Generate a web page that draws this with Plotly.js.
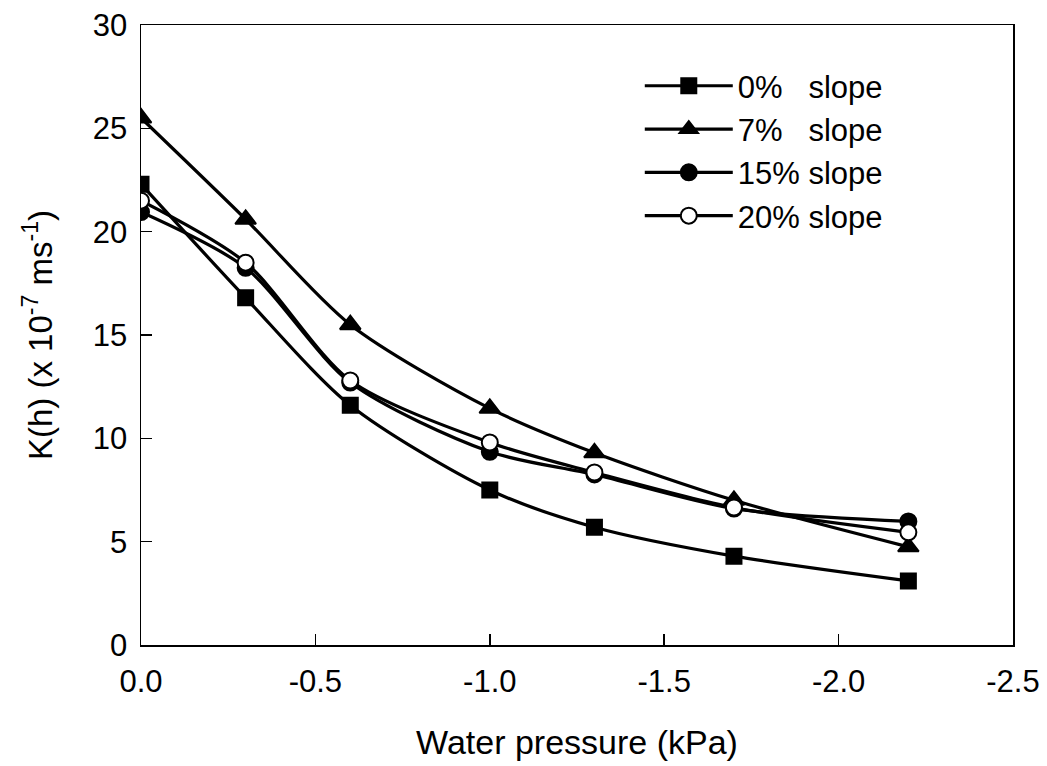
<!DOCTYPE html>
<html>
<head>
<meta charset="utf-8">
<script src="https://cdn.plot.ly/plotly-3.0.1.min.js"></script>
<style>html,body{margin:0;padding:0;background:#fff;}#chart{width:1047px;height:766px;}</style>
</head>
<body>
<div id="chart"></div>
<script>
const pressure = [0, -0.3, -0.6, -1.0, -1.3, -1.7, -2.2];
const slope0  = [22.3, 16.8, 11.6, 7.5, 5.7, 4.3, 3.1];
const slope7  = [25.5, 20.6, 15.5, 11.45, 9.3, 7.0, 4.75];
const slope15 = [20.95, 18.25, 12.7, 9.35, 8.25, 6.6, 5.98];
const slope20 = [21.5, 18.5, 12.8, 9.8, 8.35, 6.65, 5.45];
const seriesNames = ['0%\u00A0\u00A0\u00A0slope', '7%\u00A0\u00A0\u00A0slope', '15% slope', '20% slope'];
const xTickVals = [0, -0.5, -1.0, -1.5, -2.0, -2.5];
const xTickText = ['0.0', '-0.5', '-1.0', '-1.5', '-2.0', '-2.5'];
const yTickVals = [0, 5, 10, 15, 20, 25, 30];

const font = 'Liberation Sans, Arial, sans-serif';
function mk(y, name, symbol, fill, size) {
  return {
    x: pressure, y: y, name: name, type: 'scatter', mode: 'lines+markers',
    line: {color: '#000', width: 3.2, shape: 'spline', smoothing: 0.8},
    marker: {symbol: symbol, size: size, color: fill, line: {color: '#000', width: 2}}
  };
}
const data = [
  mk(slope0, seriesNames[0], 'square', '#000', 15),
  mk(slope7, seriesNames[1], 'triangle-up', '#000', 18),
  mk(slope15, seriesNames[2], 'circle', '#000', 16),
  mk(slope20, seriesNames[3], 'circle', '#fff', 16)
];
const layout = {
  width: 1047, height: 766,
  margin: {l: 141, r: 34, t: 25, b: 121},
  paper_bgcolor: '#fff', plot_bgcolor: '#fff',
  font: {family: font, color: '#000', size: 31},
  showlegend: true,
  legend: {x: 0.572, y: 0.945, xanchor: 'left', yanchor: 'top', bgcolor: 'rgba(0,0,0,0)',
           font: {family: font, size: 31, color: '#000'}, itemwidth: 88, tracegroupgap: 0},
  xaxis: {
    range: [0, -2.5], autorange: false, tickvals: xTickVals, ticktext: xTickText,
    ticks: 'inside', ticklen: 11, tickwidth: 1.5, tickcolor: '#000',
    showline: true, linecolor: '#000', linewidth: 1.5, mirror: true,
    showgrid: false, zeroline: false, ticklabelstandoff: 8,
    tickfont: {family: font, size: 31},
    title: {text: 'Water pressure (kPa)', font: {family: font, size: 34}, standoff: 32}
  },
  yaxis: {
    range: [0, 30], autorange: false, tickvals: yTickVals,
    ticks: 'inside', ticklen: 11, tickwidth: 1.5, tickcolor: '#000',
    showline: true, linecolor: '#000', linewidth: 1.5, mirror: true,
    showgrid: false, zeroline: false, ticklabelstandoff: 6,
    tickfont: {family: font, size: 31},
    title: {text: 'K(h) (x 10<sup>-7</sup> ms<sup>-1</sup>)', font: {family: font, size: 33}, standoff: 30}
  }
};
Plotly.newPlot('chart', data, layout, {displayModeBar: false, staticPlot: true});
</script>
</body>
</html>
